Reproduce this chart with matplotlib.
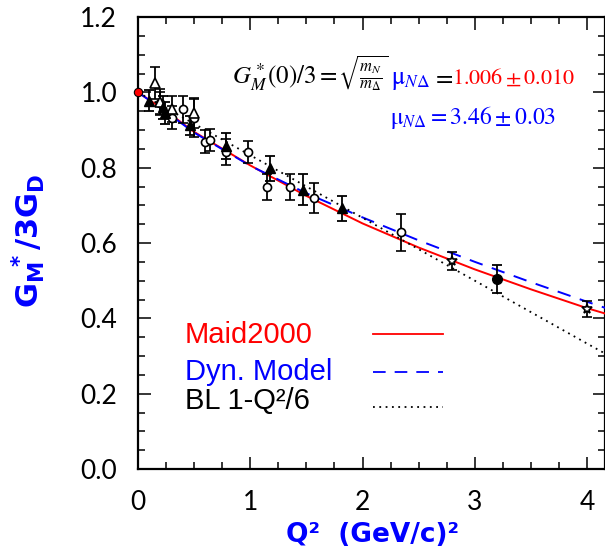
import matplotlib
matplotlib.use("Agg")
import matplotlib.pyplot as plt
from matplotlib.lines import Line2D

plt.rcParams['mathtext.fontset'] = 'stix'

# curves
q2_curve = [0.0, 0.25, 0.5, 1.0, 1.5, 2.0, 2.5, 3.0, 3.5, 4.0, 4.17]
maid = [1.0, 0.95, 0.895, 0.806, 0.725, 0.652, 0.588, 0.530, 0.477, 0.427, 0.412]
dyn = [1.0, 0.948, 0.893, 0.805, 0.732, 0.668, 0.607, 0.550, 0.496, 0.444, 0.427]
q2_bl = [0.0, 1.0, 2.0, 3.0, 4.0, 4.17]
bl = [1.0, 0.833, 0.667, 0.5, 0.333, 0.305]

# data sets
q2_otri = [0.15, 0.2, 0.3, 0.5]
g_otri = [1.024, 0.975, 0.955, 0.945]
e_otri = [0.042, 0.035, 0.035, 0.04]

q2_ftri = [0.1, 0.22, 0.24, 0.46, 0.78, 1.18, 1.47, 1.82]
g_ftri = [0.978, 0.96, 0.945, 0.913, 0.858, 0.798, 0.742, 0.692]
e_ftri = [0.027, 0.03, 0.03, 0.025, 0.035, 0.034, 0.04, 0.034]

q2_ocirc = [0.2, 0.3, 0.4, 0.5, 0.6, 0.64, 0.78, 0.98, 1.15, 1.35, 1.57, 2.34]
g_ocirc = [0.972, 0.933, 0.955, 0.931, 0.869, 0.873, 0.842, 0.842, 0.748, 0.749, 0.719, 0.628]
e_ocirc = [0.03, 0.03, 0.036, 0.05, 0.03, 0.03, 0.035, 0.03, 0.034, 0.034, 0.04, 0.05]

q2_fcirc = [3.2]
g_fcirc = [0.504]
e_fcirc = [0.037]

q2_star = [2.8, 4.0]
g_star = [0.552, 0.424]
e_star = [0.023, 0.021]

q2_photon = [0.0]
g_photon = [1.0]

W, H = 605, 552
fig = plt.figure(figsize=(W / 100, H / 100), dpi=100)
ax = fig.add_axes([138 / W, (H - 469) / H, (W - 138) / W, (469 - 17) / H])

ax.plot(q2_curve, maid, color='red', lw=1.4, zorder=3)
ax.plot(q2_curve, dyn, color='blue', lw=1.4, dashes=(7, 5), zorder=3)
ax.plot(q2_bl, bl, color='black', lw=1.3, dashes=(1, 2.5), zorder=3)

eb = dict(color='black', ecolor='black', elinewidth=1.3, capsize=3.5, capthick=1.3,
          linestyle='none', zorder=4)
ax.errorbar(q2_ocirc, g_ocirc, yerr=e_ocirc, marker='o', ms=5.8, mfc='white', mec='black', mew=1.2, **eb)
ax.errorbar(q2_otri, g_otri, yerr=e_otri, marker='^', ms=7, mfc='white', mec='black', mew=1.2, **eb)
ax.errorbar(q2_ftri, g_ftri, yerr=e_ftri, marker='^', ms=7, mfc='black', mec='black', **eb)
ax.errorbar(q2_fcirc, g_fcirc, yerr=e_fcirc, marker='o', ms=7, mfc='black', mec='black', **eb)
ax.errorbar(q2_star, g_star, yerr=e_star, marker='*', ms=7.5, mfc='white', mec='black', mew=1.2, **eb)
ax.plot(q2_photon, g_photon, 'o', ms=6, mfc='red', mec='black', mew=0.8, zorder=6, clip_on=False)

ax.set_xlim(0, 4.16)
ax.set_ylim(0, 1.2)
ax.set_xticks([0, 1, 2, 3, 4])
ax.set_xticks([i * 0.25 for i in range(17)], minor=True)
ax.set_yticks([0, 0.2, 0.4, 0.6, 0.8, 1.0, 1.2])
ax.set_yticks([i * 0.05 for i in range(25)], minor=True)
ax.set_yticklabels(['0.0', '0.2', '0.4', '0.6', '0.8', '1.0', '1.2'])
ax.tick_params(which='both', direction='in', top=True, right=True, width=1.1)
ax.tick_params(which='major', length=9, pad=15)
ax.tick_params(which='minor', length=5)
for lab in ax.get_xticklabels() + ax.get_yticklabels():
    lab.set_fontfamily('Lato')
    lab.set_fontweight('normal')
    lab.set_fontsize(19)
for s in ax.spines.values():
    s.set_linewidth(1.6)

fig.text(28 / W, 1 - 241 / H, r'$\mathbf{G_M\!\!{}^*/3G_D}$', rotation=90, color='blue',
         fontsize=22, ha='center', va='center', math_fontfamily='dejavusans')
fig.text(372 / W, 1 - 535 / H, 'Q²  (GeV/c)²', color='blue', fontsize=19, fontweight='bold',
         ha='center', va='center', family='DejaVu Sans')

# annotation
def ftxt(x, y, s, c, size=16):
    fig.text(x / W, 1 - y / H, s, color=c, fontsize=size, ha='left', va='baseline')

ftxt(232, 84, r'$G^*_M(0)/3=$', 'black', 18)
ftxt(338, 84, r'$\sqrt{\frac{m_N}{m_\Delta}}$', 'black', 17)
ftxt(391, 84, r'$\mathrm{\mu}_{N\Delta}$', 'blue', 18)
ftxt(432, 84, r'$=$', 'black', 18)
ftxt(452, 84, r'$\mathrm{1.006\pm0.010}$', 'red', 16)
ftxt(390, 124, r'$\mathrm{\mu}_{N\Delta}=\mathrm{3.46\pm0.03}$', 'blue', 17)

# legend
leg_names = ['Maid2000', 'Dyn. Model', 'BL 1-Q²/6']
leg_colors = ['red', 'blue', 'black']
leg_ty = [335, 372, 401]
leg_ly = [334, 372, 407]
leg_dash = [None, (7, 5), (1, 2.5)]
for name, c, ty, ly, d in zip(leg_names, leg_colors, leg_ty, leg_ly, leg_dash):
    fig.text(185 / W, 1 - ty / H, name, color=c, fontsize=21, family='Liberation Sans',
             ha='left', va='center')
    ln = Line2D([373 / W, 443 / W], [1 - ly / H, 1 - ly / H], color=c, lw=1.3,
                transform=fig.transFigure)
    if d is not None:
        ln.set_dashes(d)
    fig.add_artist(ln)

fig.savefig('out.png', dpi=100)
